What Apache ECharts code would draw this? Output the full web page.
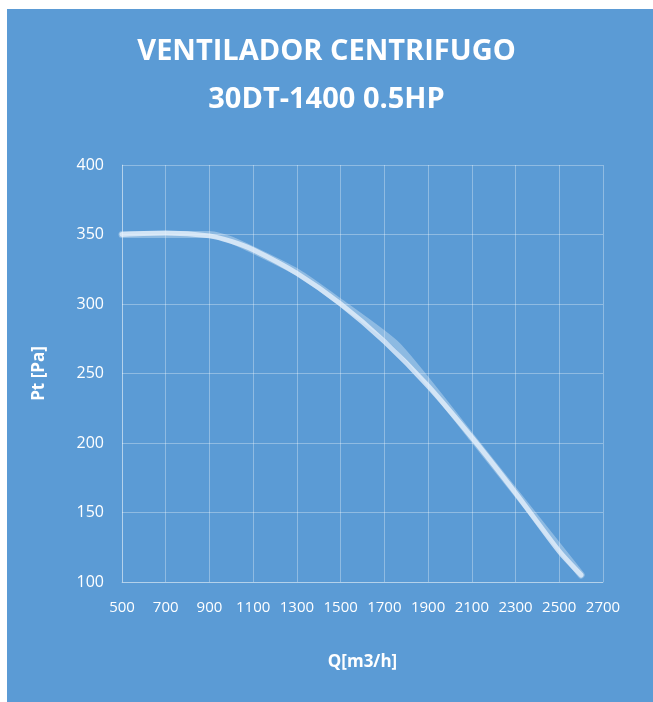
<!DOCTYPE html>
<html><head><meta charset="utf-8">
<script src="https://cdn.jsdelivr.net/npm/echarts@6/dist/echarts.min.js"></script>
<style>html,body{margin:0;padding:0;background:#fff;}#c{width:653px;height:702px;}</style>
</head><body><div id="c"></div>
<script>
const titleLines = ['VENTILADOR CENTRIFUGO', '30DT-1400 0.5HP'];
const xName = 'Q[m3/h]';
const yName = 'Pt [Pa]';
const flow = [500, 700, 900, 1000, 1100, 1300, 1500, 1700, 1900, 2100, 2300, 2500, 2600];
const pressure = [350, 351, 349, 345, 339, 322, 300, 273, 241, 204, 164, 122, 105];
const flow2 = [500, 900, 1000, 1300, 1500, 1760, 2100, 2600];
const pressure2 = [350, 350, 346, 323, 301, 270, 204, 105];

const chart = echarts.init(document.getElementById('c'));
const gridCol = 'rgba(255,255,255,0.32)';
chart.setOption({
  backgroundColor: '#ffffff',
  graphic: [{type:'rect', z:-10, shape:{x:7,y:9,width:646,height:693}, style:{fill:'#5B9BD5'}}],
  title: {
    text: titleLines.join('\n'), left: 'center', top: 23,
    textStyle: {color:'#fff', fontFamily:'Open Sans', fontWeight:'bold', fontSize:29, lineHeight:48}
  },
  grid: {left:122, right:50, top:165, bottom:120},
  xAxis: {
    type:'value', min:500, max:2700, interval:200,
    name:xName, nameLocation:'middle', nameGap:72,
    nameTextStyle:{color:'#fff', fontWeight:'bold', fontSize:17, fontFamily:'Open Sans'},
    axisLine:{show:true, lineStyle:{color:gridCol}}, axisTick:{show:false},
    axisLabel:{color:'#fff', fontSize:15, fontFamily:'Open Sans', margin:18, formatter:v=>String(v)},
    splitLine:{show:true, lineStyle:{color:gridCol}}
  },
  yAxis: {
    type:'value', min:100, max:400, interval:50,
    name:yName, nameLocation:'middle', nameGap:74, nameRotate:90,
    nameTextStyle:{color:'#fff', fontWeight:'bold', fontSize:17, fontFamily:'Open Sans'},
    axisLine:{show:true, lineStyle:{color:gridCol}}, axisTick:{show:false},
    axisLabel:{color:'#fff', fontSize:16, fontFamily:'Open Sans', margin:18, formatter:v=>String(v)},
    splitLine:{show:true, lineStyle:{color:gridCol}}
  },
  series: [
    {type:'line', data:flow2.map((x,i)=>[x,pressure2[i]]), showSymbol:false, smooth:0.2,
     lineStyle:{color:'rgba(235,243,252,0.35)', width:7, cap:'round'}},
    {type:'line', data:flow.map((x,i)=>[x,pressure[i]]), showSymbol:false, smooth:0.25,
     lineStyle:{color:'rgba(235,243,252,0.75)', width:5, cap:'round'}}
  ],
  animation:false
});
</script></body></html>
